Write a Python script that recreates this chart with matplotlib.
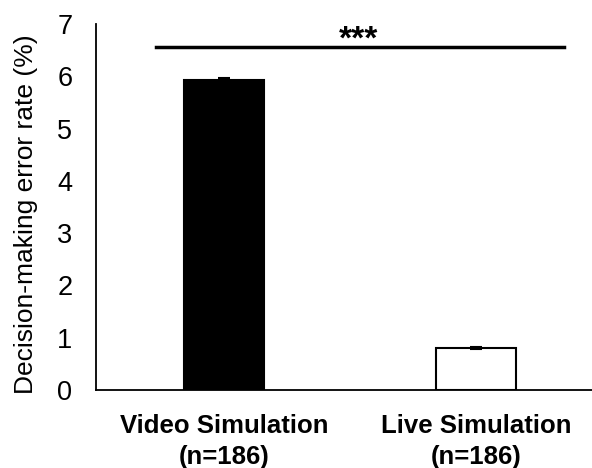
import matplotlib
matplotlib.use("Agg")
import matplotlib.pyplot as plt

categories = ["Video Simulation\n(n=186)", "Live Simulation\n(n=186)"]
values = [5.93, 0.80]
errors = [0.03, 0.015]
colors = ["black", "white"]
yticks = [0, 1, 2, 3, 4, 5, 6, 7]
sig_label = "***"
sig_level = 6.56

plt.rcParams['font.family'] = ['Liberation Sans', 'DejaVu Sans']

fig = plt.figure(figsize=(5.92, 4.68), dpi=100)
ax = fig.add_axes([0.1622, 0.1667, 0.8378, 0.782])

x = list(range(len(categories)))
ax.bar(x, values, width=0.32, color=colors, edgecolor="black", linewidth=1.5,
       yerr=errors, error_kw=dict(ecolor="black", elinewidth=1.5, capsize=4, capthick=1.5), zorder=2)

ax.set_xlim(-0.508, 1.46)
ax.set_ylim(0, 7)
ax.set_yticks(yticks)
ax.tick_params(axis='y', length=0, labelsize=19.5, pad=17)
ax.tick_params(axis='x', length=0, pad=17)
ax.set_xticks(x)
ax.set_xticklabels(categories, fontsize=18.5, fontweight='bold', linespacing=1.4)
ax.set_ylabel("Decision-making error rate (%)", fontsize=19, labelpad=10)
ax.yaxis.set_label_coords(-0.117, 0.48)

for s in ['top', 'right']:
    ax.spines[s].set_visible(False)
for s in ['left', 'bottom']:
    ax.spines[s].set_linewidth(1.3)

ax.plot([-0.27, 1.35], [sig_level, sig_level], color="black", linewidth=2.5, clip_on=False)
ax.text(0.535, sig_level - 0.17, sig_label, ha='center', va='bottom', fontsize=24, fontweight='bold')

fig.savefig("out.png", dpi=100)
